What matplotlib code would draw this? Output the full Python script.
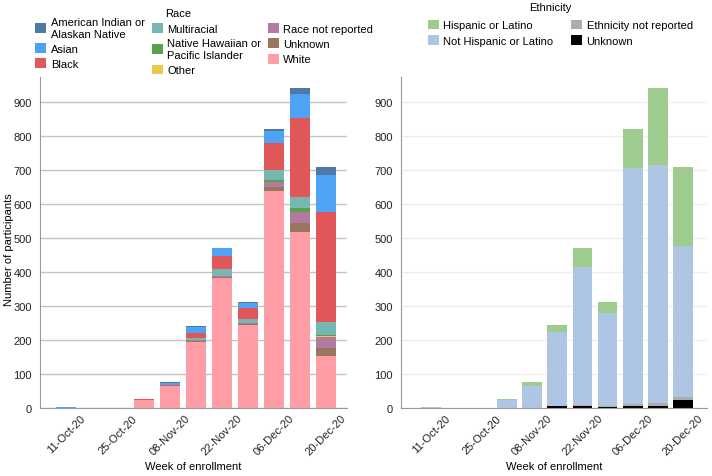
import numpy as np
import matplotlib
matplotlib.use('Agg')
from matplotlib import pyplot as plt

plt.rcParams['font.family'] = ['Liberation Sans', 'DejaVu Sans']
plt.rcParams['font.size'] = 8

weeks = ['11-Oct-20', '18-Oct-20', '25-Oct-20', '01-Nov-20', '08-Nov-20', '15-Nov-20',
         '22-Nov-20', '29-Nov-20', '06-Dec-20', '13-Dec-20', '20-Dec-20']

# race counts per week (bottom of stack first)
white        = [0, 0, 0, 23, 65, 195, 383, 244, 637, 517, 152]
unknown      = [0, 0, 0, 0, 1, 3, 3, 2, 13, 27, 23]
race_nr      = [0, 0, 0, 0, 0, 2, 2, 4, 13, 31, 34]
other        = [0, 0, 0, 0, 0, 0, 0, 0, 0, 1, 1]
nhpi         = [0, 0, 0, 0, 0, 1, 1, 1, 8, 10, 5]
multiracial  = [0, 0, 0, 0, 0, 6, 18, 9, 27, 33, 39]
black        = [0, 0, 0, 2, 3, 14, 38, 34, 79, 232, 321]
asian        = [2, 0, 0, 0, 3, 17, 25, 15, 37, 70, 109]
aian         = [0, 0, 0, 0, 3, 2, 0, 2, 4, 20, 24]

# ethnicity counts per week (bottom of stack first)
eth_unknown  = [0, 0, 0, 0, 0, 5, 5, 4, 5, 5, 24]
eth_nr       = [0, 0, 0, 0, 0, 1, 3, 2, 8, 10, 8]
not_hispanic = [2, 0, 0, 23, 65, 217, 407, 272, 691, 700, 444]
hispanic     = [0, 0, 0, 2, 10, 21, 56, 34, 114, 226, 232]

race_series = [
    ('White', white, '#ff9da7'),
    ('Unknown', unknown, '#9c755f'),
    ('Race not reported', race_nr, '#b07aa1'),
    ('Other', other, '#edc948'),
    ('Native Hawaiian or\nPacific Islander', nhpi, '#59a14f'),
    ('Multiracial', multiracial, '#76b7b2'),
    ('Black', black, '#e15759'),
    ('Asian', asian, '#4fa3f7'),
    ('American Indian or\nAlaskan Native', aian, '#4e79a7'),
]
eth_series = [
    ('Unknown', eth_unknown, '#000000'),
    ('Ethnicity not reported', eth_nr, '#adadad'),
    ('Not Hispanic or Latino', not_hispanic, '#aec5e4'),
    ('Hispanic or Latino', hispanic, '#9ecb8e'),
]

x = np.arange(len(weeks))

fig = plt.figure(figsize=(7.12, 4.77), dpi=100)
ax0 = fig.add_axes([40/712, 68/477, 307/712, 331/477])
ax1 = fig.add_axes([401/712, 68/477, 306/712, 331/477])


def stack(ax, series):
    bottom = np.zeros(len(x))
    handles = {}
    for name, vals, col in series:
        h = ax.bar(x, vals, 0.78, bottom=bottom, color=col, label=name, linewidth=0)
        handles[name] = h
        bottom += np.array(vals)
    return handles


def style(ax, gridcol):
    ax.set_ylim(0, 972)
    ax.set_yticks(range(0, 901, 100))
    ax.set_xticks(x[::2])
    ax.set_xticklabels(weeks[::2], rotation=45, ha='center')
    ax.tick_params(length=0, labelsize=8, colors='#222222')
    ax.tick_params(axis='y', pad=6)
    ax.yaxis.grid(True, color=gridcol, linewidth=1)
    ax.set_axisbelow(True)
    for s in ['top', 'right']:
        ax.spines[s].set_visible(False)
    for s in ['left', 'bottom']:
        ax.spines[s].set_color('#999999')
    ax.set_xlabel('Week of enrollment', fontsize=8, labelpad=3)


h0 = stack(ax0, race_series)
style(ax0, '#c4c4c4')
ax0.set_xlim(-1.0, 10.8)
ax0.set_ylabel('Number of participants', fontsize=8)
ax0.yaxis.set_label_coords(-26/307, 0.48)

h1 = stack(ax1, eth_series)
style(ax1, '#eeeeee')
ax1.set_xlim(-1.2, 10.95)

race_order = ['American Indian or\nAlaskan Native', 'Asian', 'Black',
              'Multiracial', 'Native Hawaiian or\nPacific Islander', 'Other',
              'Race not reported', 'Unknown', 'White']
ax0.legend([h0[n] for n in race_order], race_order, ncol=3, frameon=False,
           fontsize=8, loc='lower center', bbox_to_anchor=(0.535, 0.985),
           handlelength=1.0, handleheight=1.0, handletextpad=0.4,
           columnspacing=0.6, labelspacing=0.4, borderaxespad=0.2)
fig.text(178/712, 1 - 14/477, 'Race', ha='center', va='center', fontsize=8)

eth_order = ['Hispanic or Latino', 'Not Hispanic or Latino',
             'Ethnicity not reported', 'Unknown']
ax1.legend([h1[n] for n in eth_order], eth_order, ncol=2, frameon=False,
           fontsize=8, loc='lower center', bbox_to_anchor=(0.52, 1.075),
           handlelength=1.0, handleheight=1.0, handletextpad=0.4,
           columnspacing=1.6, labelspacing=0.4, borderaxespad=0.2)
fig.text(550/712, 1 - 8/477, 'Ethnicity', ha='center', va='center', fontsize=8)

fig.savefig('out.png', dpi=100, facecolor='w')
